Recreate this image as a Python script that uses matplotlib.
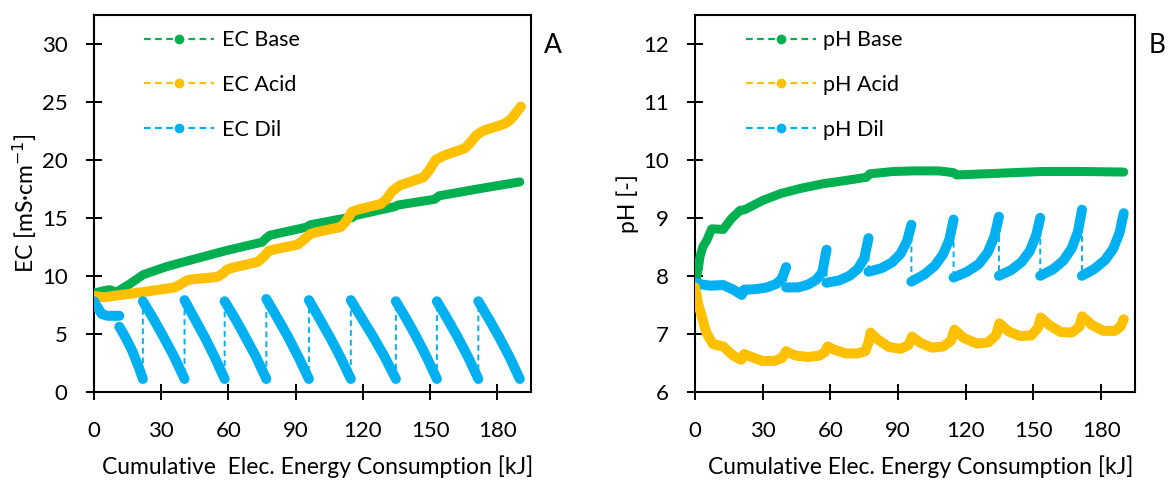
import numpy as np
import matplotlib
matplotlib.use("Agg")
import matplotlib.pyplot as plt
from matplotlib.lines import Line2D

plt.rcParams['font.family'] = ['Lato', 'DejaVu Sans']

# ---------------- data ----------------
xticks = [0, 30, 60, 90, 120, 150, 180]

# Panel A : EC [mS/cm]
ec_base_x = [0, 4, 7, 10, 16, 22, 32.5, 43, 59.5, 75, 76.5, 78.5, 95, 96.5, 111.5,
             115, 116.5, 134, 135.5, 152, 154, 171.5, 190]
ec_base_y = [8.5, 8.7, 8.8, 8.6, 9.3, 10.1, 10.8, 11.35, 12.2, 12.9, 13.2, 13.5, 14.2,
             14.4, 14.95, 15.0, 15.2, 15.95, 16.1, 16.6, 16.9, 17.5, 18.1]

ec_acid_x = [0, 5, 10, 22, 36, 38.5, 41.5, 44, 55, 57.5, 59.5, 62, 73, 75.5, 78, 81,
             91, 93.5, 96.5, 99, 110, 112.5, 115, 117.5, 128, 130.5, 133, 136.5, 147,
             149.5, 152.5, 156.5, 165.5, 168, 170.5, 173.5, 183, 185.5, 187.5, 190.5]
ec_acid_y = [8.25, 8.15, 8.3, 8.6, 9.0, 9.25, 9.6, 9.7, 9.9, 10.2, 10.55, 10.7, 11.2,
             11.6, 12.15, 12.3, 12.7, 13.1, 13.6, 13.75, 14.2, 14.7, 15.5, 15.7, 16.2,
             16.6, 17.3, 17.8, 18.5, 19.1, 20.0, 20.4, 21.0, 21.5, 22.1, 22.5, 23.1,
             23.4, 23.85, 24.6]

ec_dil_x = [0, 1.5, 3.5, 6, 11.3,
            11.3, 14, 17, 20, 21.8,
            21.8, 26.5, 31.1, 35.8, 40.4,
            40.4, 44.9, 49.4, 53.8, 58.3,
            58.3, 63.0, 67.6, 72.3, 76.9,
            76.9, 81.7, 86.4, 91.2, 95.9,
            95.9, 100.6, 105.3, 109.9, 114.6,
            114.6, 119.6, 124.7, 129.7, 134.7,
            134.7, 139.3, 143.9, 148.4, 153.0,
            153.0, 157.6, 162.3, 166.9, 171.5,
            171.5, 176.1, 180.8, 185.4, 190.0]
ec_dil_y = [7.8, 7.3, 6.7, 6.55, 6.55,
            5.6, 4.7, 3.55, 2.1, 1.1,
            7.8, 6.3, 4.7, 3.0, 1.1,
            7.9, 6.3, 4.7, 3.0, 1.1,
            7.8, 6.3, 4.7, 3.0, 1.1,
            8.0, 6.4, 4.8, 3.0, 1.1,
            7.9, 6.3, 4.7, 3.0, 1.1,
            7.9, 6.3, 4.7, 3.0, 1.1,
            7.8, 6.3, 4.7, 3.0, 1.1,
            7.8, 6.3, 4.7, 3.0, 1.1,
            7.8, 6.3, 4.7, 3.0, 1.1]

# Panel B : pH [-]
ph_base_x = [0, 0.8, 1.5, 2.2, 3.5, 5.2, 7.4, 12.5, 16, 20, 22, 30, 38, 47, 57, 66, 76,
             77.5, 88, 97, 108, 114.5, 116, 135, 154, 171, 190]
ph_base_y = [7.85, 8.0, 8.13, 8.33, 8.5, 8.61, 8.81, 8.8, 8.98, 9.13, 9.14, 9.3, 9.42,
             9.51, 9.59, 9.64, 9.7, 9.76, 9.8, 9.81, 9.81, 9.78, 9.74, 9.77, 9.8, 9.8, 9.79]

ph_acid_x = [0, 1.5, 3, 5, 8, 12.5, 17, 20.5, 21.8, 25, 30, 35, 38.5, 40.4, 41.5, 45, 50,
             55, 57.5, 58.8, 62, 67, 72, 75.5, 76.9, 77.8, 81, 86, 91, 94.5, 96.2, 100,
             105, 110, 113.5, 115, 119, 125, 130, 133.5, 134.9, 139, 144, 149, 152,
             153.2, 157, 162, 167, 170.3, 171.6, 176, 181, 186, 188.5, 190]
ph_acid_y = [7.8, 7.5, 7.3, 7.02, 6.82, 6.78, 6.62, 6.55, 6.65, 6.6, 6.53, 6.53, 6.58,
             6.7, 6.67, 6.62, 6.6, 6.62, 6.68, 6.78, 6.72, 6.66, 6.66, 6.7, 6.85, 7.02,
             6.9, 6.77, 6.74, 6.8, 6.95, 6.84, 6.76, 6.78, 6.88, 7.07, 6.93, 6.83, 6.85,
             6.98, 7.18, 7.04, 6.96, 6.97, 7.1, 7.28, 7.15, 7.03, 7.02, 7.12, 7.3, 7.15,
             7.05, 7.05, 7.12, 7.25]

ph_dil_x = [0, 3, 6.6, 12.5, 17, 20.7,
            21.8, 27, 32, 36, 38.5, 40.4,
            40.4, 45.8, 50.2, 53.7, 56.4, 58.3,
            58.3, 63.9, 68.5, 72.2, 75.0, 76.9,
            76.9, 82.6, 87.3, 91.1, 94.0, 95.9,
            95.9, 101.5, 106.2, 109.9, 112.7, 114.6,
            114.6, 120.6, 125.7, 129.7, 132.7, 134.7,
            134.7, 140.2, 144.8, 148.4, 151.2, 153.0,
            153.0, 158.6, 163.2, 166.9, 169.7, 171.5,
            171.5, 177.0, 181.7, 185.4, 188.2, 190.0]
ph_dil_y = [7.88, 7.85, 7.83, 7.84, 7.76, 7.67,
            7.76, 7.77, 7.8, 7.86, 7.95, 8.15,
            7.8, 7.8, 7.85, 7.93, 8.06, 8.45,
            7.88, 7.92, 8.0, 8.12, 8.3, 8.65,
            8.07, 8.13, 8.23, 8.38, 8.6, 8.88,
            7.9, 8.02, 8.17, 8.37, 8.62, 8.97,
            7.97, 8.07, 8.2, 8.4, 8.68, 9.02,
            8.0, 8.1, 8.24, 8.43, 8.7, 9.0,
            8.0, 8.11, 8.26, 8.47, 8.76, 9.14,
            8.0, 8.12, 8.27, 8.47, 8.75, 9.08]

GREEN, ORANGE, BLUE = '#00B050', '#FFC000', '#00B0F0'
DASH = (0, (3, 2))

# ---------------- figure ----------------
W, H = 1173, 482
fig = plt.figure(figsize=(W / 100, H / 100), dpi=100)
bot = 1 - 391.7 / H
hgt = (391.7 - 15) / H
ax1 = fig.add_axes([94 / W, bot, (531 - 94) / W, hgt])
ax2 = fig.add_axes([695 / W, bot, (1135 - 695) / W, hgt])


def draw(ax, x, y, color, lw):
    x = np.asarray(x, float)
    y = np.asarray(y, float)
    ax.plot(x, y, ls=DASH, lw=1.4, color=color, zorder=2)
    jumps = np.where((np.diff(x) < 0.05) & (np.abs(np.diff(y)) > 0.3))[0] + 1
    for sx, sy in zip(np.split(x, jumps), np.split(y, jumps)):
        ax.plot(sx, sy, lw=lw, color=color, solid_capstyle='round',
                solid_joinstyle='round', zorder=3)


draw(ax1, ec_base_x, ec_base_y, GREEN, 6.5)
draw(ax1, ec_acid_x, ec_acid_y, ORANGE, 7.2)
draw(ax1, ec_dil_x, ec_dil_y, BLUE, 7.2)

draw(ax2, ph_base_x, ph_base_y, GREEN, 6.5)
draw(ax2, ph_dil_x, ph_dil_y, BLUE, 7.2)
draw(ax2, ph_acid_x, ph_acid_y, ORANGE, 7.2)

TFS = 16
LFS = 16.5
GFS = 15.5
for ax, ylim, yt, ylab, labs, letter, xl in [
        (ax1, (0, 32.5), [0, 5, 10, 15, 20, 25, 30], 'EC [mS·cm$^{-1}$]',
         ['EC Base', 'EC Acid', 'EC Dil'], 'A',
         'Cumulative  Elec. Energy Consumption [kJ]'),
        (ax2, (6, 12.5), [6, 7, 8, 9, 10, 11, 12], 'pH [-]',
         ['pH Base', 'pH Acid', 'pH Dil'], 'B',
         'Cumulative Elec. Energy Consumption [kJ]')]:
    ax.set_xlim(0, 195)
    ax.set_ylim(*ylim)
    ax.set_xticks(xticks)
    ax.set_yticks(yt)
    ax.set_xticklabels([str(v) for v in xticks])
    ax.set_yticklabels([str(v) for v in yt])
    for s in ax.spines.values():
        s.set_linewidth(1.5)
        s.set_color('black')
    ax.tick_params(direction='inout', length=12, width=1.4, labelsize=TFS,
                   top=False, right=False)
    ax.tick_params(axis='x', pad=15)
    ax.tick_params(axis='y', pad=13)
    ax.set_xlabel(xl, fontsize=LFS, va='center')
    ax.xaxis.set_label_coords(0.512, -0.2)
    ax.set_ylabel(ylab, fontsize=LFS, va='center')
    ax.yaxis.set_label_coords(-0.158 if letter == 'A' else -0.152, 0.5)
    ax.text(1.05, 0.92, letter, transform=ax.transAxes, fontsize=19,
            ha='center', va='center')
    handles = [Line2D([], [], color=c, ls=DASH, lw=1.6, marker='o', ms=6)
               for c in (GREEN, ORANGE, BLUE)]
    ax.legend(handles, labs, loc='upper left', bbox_to_anchor=(0.115, 0.96),
              frameon=False, fontsize=GFS, handlelength=3.25, handletextpad=0.35,
              labelspacing=1.15, borderpad=0, borderaxespad=0)

fig.savefig('out.png', dpi=100)
